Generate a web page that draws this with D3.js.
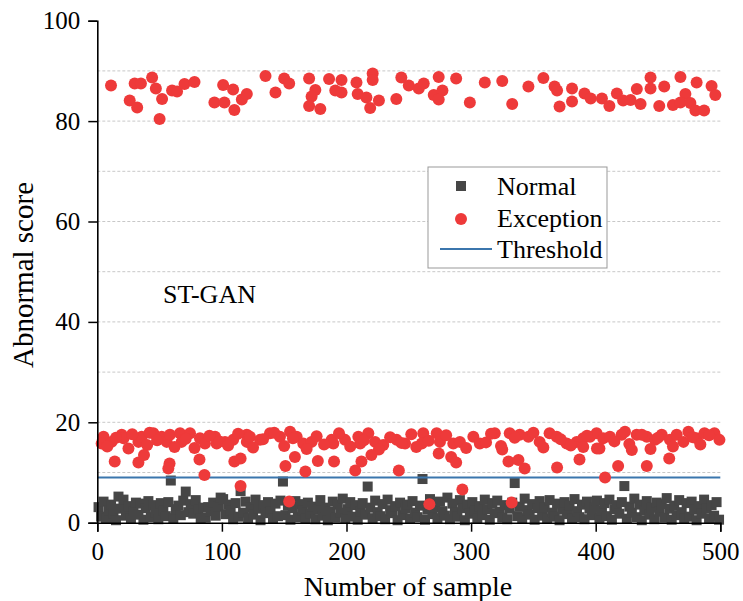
<!DOCTYPE html>
<html>
<head>
<meta charset="utf-8">
<script src="https://cdn.jsdelivr.net/npm/d3@7"></script>
<style>
  body { margin: 0; background: #fff; }
  svg text { font-family: "Liberation Serif", "Times New Roman", Times, serif; }
</style>
</head>
<body>
<div id="chart"></div>
<script>
// x ticks / y ticks
var xMajor = [0, 100, 200, 300, 400, 500];
var xMinor = [50, 150, 250, 350, 450];
var yMajor = [0, 20, 40, 60, 80, 100];
var yMinor = [10, 30, 50, 70, 90];
var gridVals = [10, 20, 30, 40, 50, 60, 70, 80, 90];

var thresholdValue = 9;

// normal samples, one value for every second sample (1, 3, 5 ... 499)
var normalScores = [
  3.1,1.2,4.2,0.8,2.5,3.6,1.9,0.5,5.2,2.8,4.6,1.4,3.3,0.9,2.2,4.0,1.6,3.8,0.6,2.9,4.3,1.1,3.5,2.0,0.7,
  3.9,2.4,1.3,4.1,8.4,0.9,2.7,3.4,1.5,4.4,6.2,2.1,3.7,1.8,4.5,2.6,0.8,3.0,1.0,3.1,2.3,4.0,1.4,3.2,5.0,
  4.7,1.7,3.6,2.4,0.7,3.9,1.2,6.3,2.0,4.2,0.9,3.1,1.6,4.6,2.8,0.5,3.5,1.9,4.1,2.2,0.8,3.8,1.3,4.4,8.2,
  1.5,3.4,0.6,2.9,4.3,1.1,3.7,2.5,0.9,4.0,1.8,3.2,0.7,2.6,4.5,1.4,3.0,0.5,2.2,4.2,1.0,3.6,2.0,4.8,0.8,
  2.7,4.1,1.2,3.5,0.6,2.3,3.9,1.6,7.2,3.0,0.9,4.4,2.1,1.3,3.7,0.7,4.6,2.5,1.9,3.3,0.5,4.0,1.5,2.8,3.6,
  0.8,4.3,2.0,1.1,3.4,8.7,0.6,2.6,4.7,1.7,3.1,0.9,4.2,2.3,1.4,5.0,0.7,3.8,2.1,1.2,4.5,2.9,0.5,3.6,1.8,
  4.1,2.4,0.8,3.3,1.5,4.6,2.7,0.6,3.9,1.9,4.4,2.2,1.0,3.5,0.7,2.8,4.0,7.9,1.3,3.2,0.9,4.8,2.5,1.6,3.7,
  0.6,2.9,4.3,1.4,3.1,0.8,4.5,2.0,1.2,3.8,0.5,2.6,4.1,1.7,3.4,0.9,4.7,2.3,1.1,3.6,0.7,4.2,2.8,1.5,3.0,
  4.4,0.9,2.4,3.9,1.3,4.6,0.6,2.7,3.5,1.8,4.1,7.3,0.8,3.2,2.0,4.8,1.1,3.6,0.5,2.5,4.3,1.6,3.0,0.7,4.0,
  2.2,3.7,1.0,4.9,2.8,0.6,3.4,1.5,4.5,2.1,0.8,3.9,1.2,4.2,2.6,0.5,3.3,1.8,4.6,2.9,0.9,3.5,1.4,4.1,0.6
];

// exception samples, upper band
var excHighX = [11,26,32,30,35,44,47,52,50,60,64,70,78,94,101,109,102,110,116,120,
  135,143,150,154,170,175,172,170,179,186,191,196,196,208,209,221,221,216,219,226,
  240,244,250,258,262,270,274,277,274,288,299,311,325,333,346,358,367,369,371,381,
  381,391,396,405,411,417,422,428,433,436,444,444,455,451,462,468,472,468,476,480,
  481,487,493,496];
var excHighY = [87.1,84.1,82.7,87.5,87.5,88.7,86.5,84.4,80.4,86.1,85.9,87.4,87.8,83.7,87.2,86.3,83.7,82.2,84.3,85.4,
  89.0,85.7,88.5,87.5,88.5,86.2,84.9,83.0,82.4,88.4,86.1,88.2,85.7,87.7,85.4,89.5,88.2,84.7,82.6,84.1,
  84.4,88.7,87.1,86.5,87.5,85.2,88.8,86.1,84.3,88.5,83.7,87.7,88.0,83.4,86.9,88.6,86.9,86.1,82.9,86.5,
  83.9,85.5,84.5,84.5,83.0,85.5,84.1,84.2,86.4,83.4,88.7,86.5,86.9,83.0,83.2,88.8,85.4,83.7,83.6,82.1,
  87.7,82.1,87.0,85.2];

// exception samples, lower band (incl. the few below the threshold)
var excLowX = [5,3.5,11.5,19.6,21,33,35.6,45,51.7,55.7,58.3,66.4,67.7,74.4,82.4,86.4,94.5,95.8,102.5,109,
  120,120,122.5,130.6,138.6,146.6,154.7,160,165.3,172,188,189.4,198.8,209.5,211,217.5,222.9,229.5,240.3,247,
  261.6,260.4,272.4,275,285.7,291,301.8,307,319,331,339,346,355,363,368.7,376.7,
  384.7,390,395.4,400.7,406,411.4,420.8,423.5,432.9,441,447.6,453,459.6,465,470.4,474.4,481,487.3,495.3,499.3,
  8,15,25,28,40,42,48,62,71,78,90,98,105,113,125,133,142,150,157,168,
  176,182,194,203,214,226,235,244,252,256,266,280,296,312,316,324,335,350,358,372,
  380,393,403,415,427,437,444,450,462,478,484,491,
  14,33,37.5,58,57,82,86,110,115,151,158.6,167,177,190,207,212,220,242,
  274,284,288,325,330,338,343,369,387,390,401,418,429,441,459,
  115,154,266.5,293,332.6,407.5];
var excLowY = [17.1,15.8,16.1,17.5,16.8,16.1,17.1,17.8,17.1,16.1,17.5,17.8,16.1,17.8,16.8,15.8,17.1,15.8,16.1,16.5,
  17.5,16.1,17.1,16.5,17.8,17.1,18.1,17.1,15.8,16.1,16.5,15.8,16.5,17.1,15.8,17.8,16.1,15.5,16.5,15.8,
  17.8,15.8,17.8,16.1,15.8,16.1,17.1,15.8,17.8,17.8,17.5,17.1,16.1,17.8,17.1,15.8,
  16.1,16.8,17.1,17.8,16.8,17.1,17.5,18.1,17.5,17.1,16.5,17.5,16.5,17.5,16.1,18.1,16.8,17.8,17.8,16.5,
  15.2,16.9,14.8,17.6,15.5,17.9,16.4,15.1,16.7,14.9,17.3,16.2,15.4,17.7,15.0,16.6,17.9,15.3,16.8,14.7,
  17.2,15.6,17.8,15.2,16.4,14.6,17.0,15.9,17.6,15.1,16.3,17.4,14.9,16.0,17.7,15.3,16.9,17.9,15.0,16.6,
  15.4,17.3,14.8,16.2,15.7,17.5,14.7,16.9,15.2,17.0,15.6,17.4,
  12.2,12.0,13.5,11.8,10.8,12.6,9.5,12.2,12.8,11.3,13.1,10.2,12.3,12.2,10.4,12.2,13.5,10.4,
  13.8,13.1,12.0,14.6,12.2,12.5,10.8,11.0,12.6,15.1,14.8,11.3,14.5,11.3,12.8,
  7.3,4.2,3.7,6.6,4.0,9.0];

var W = 743, H = 601;
var serif = "'Liberation Serif', 'Times New Roman', Times, serif";
var svg = d3.select("#chart").append("svg")
    .attr("width", W)
    .attr("height", H);

var x = d3.scaleLinear().domain([0, 500]).range([97.3, 720.3]);
var y = d3.scaleLinear().domain([0, 100]).range([522.7, 20.7]);

// dashed grid
svg.append("g").selectAll("line")
    .data(gridVals)
    .enter()
    .append("line")
    .attr("x1", x(0))
    .attr("x2", x(500) + 2)
    .attr("y1", function(d){ return y(d); })
    .attr("y2", function(d){ return y(d); })
    .attr("stroke", "#c8c8c8")
    .attr("stroke-width", 1)
    .attr("stroke-dasharray", "3,2");

// normal squares
var sq = 10;
svg.append("g").selectAll("rect")
    .data(normalScores)
    .enter()
    .append("rect")
    .attr("x", function(d, i){ return x(i * 2 + 1) - sq / 2; })
    .attr("y", function(d){ return y(d) - sq / 2; })
    .attr("width", sq)
    .attr("height", sq)
    .attr("fill", "#464646");

// threshold
svg.append("line")
    .attr("x1", x(0))
    .attr("x2", x(500))
    .attr("y1", y(thresholdValue))
    .attr("y2", y(thresholdValue))
    .attr("stroke", "#3b76ad")
    .attr("stroke-width", 2);

// exceptions
var red = "#ee3a3a";
var excPts = excHighX.map(function(d, i){ return [d, excHighY[i]]; })
    .concat(excLowX.map(function(d, i){ return [d, excLowY[i]]; }));

svg.append("g").selectAll("circle")
    .data(excPts)
    .enter()
    .append("circle")
    .attr("cx", function(d){ return x(d[0]); })
    .attr("cy", function(d){ return y(d[1]); })
    .attr("r", 6)
    .attr("fill", red);

// axes
var xAxisG = svg.append("g").attr("transform", "translate(0," + y(0) + ")");
xAxisG.call(d3.axisBottom(x).tickValues(xMinor).tickSize(5).tickFormat(""));
xAxisG.call(d3.axisBottom(x).tickValues(xMajor).tickSize(9).tickPadding(11));

var yAxisG = svg.append("g").attr("transform", "translate(" + x(0) + ",0)");
yAxisG.call(d3.axisLeft(y).tickValues(yMinor).tickSize(5).tickFormat(""));
yAxisG.call(d3.axisLeft(y).tickValues(yMajor).tickSize(9).tickPadding(8));

svg.selectAll(".domain").attr("stroke", "#000").attr("stroke-width", 1.6);
svg.selectAll(".tick line").attr("stroke", "#000").attr("stroke-width", 1.5);
xAxisG.attr("font-family", serif);
yAxisG.attr("font-family", serif);
svg.selectAll(".tick text")
    .attr("font-family", serif)
    .attr("font-size", "25px")
    .attr("fill", "#000");

// axis titles
svg.append("text")
    .attr("x", 408)
    .attr("y", 596)
    .attr("text-anchor", "middle")
    .attr("font-family", serif)
    .attr("font-size", "28px")
    .text("Number of sample");

svg.append("text")
    .attr("transform", "translate(33,275) rotate(-90)")
    .attr("text-anchor", "middle")
    .attr("font-family", serif)
    .attr("font-size", "29px")
    .text("Abnormal score");

svg.append("text")
    .attr("x", 163)
    .attr("y", 303)
    .attr("font-family", serif)
    .attr("font-size", "26px")
    .text("ST-GAN");

// legend
var lg = svg.append("g");
lg.append("rect")
    .attr("x", 428).attr("y", 167)
    .attr("width", 179).attr("height", 101)
    .attr("fill", "#fff")
    .attr("stroke", "#999")
    .attr("stroke-width", 1);
lg.append("rect")
    .attr("x", 456).attr("y", 181).attr("width", 10).attr("height", 10)
    .attr("fill", "#464646");
lg.append("circle")
    .attr("cx", 461).attr("cy", 219).attr("r", 6)
    .attr("fill", red);
lg.append("line")
    .attr("x1", 440).attr("x2", 492).attr("y1", 249).attr("y2", 249)
    .attr("stroke", "#3b76ad").attr("stroke-width", 2);
var legendNames = ["Normal", "Exception", "Threshold"];
lg.selectAll("text.lt")
    .data(legendNames)
    .enter()
    .append("text")
    .attr("class", "lt")
    .attr("x", 497)
    .attr("y", function(d, i){ return 195 + i * 31.5; })
    .attr("font-family", serif)
    .attr("font-size", "26px")
    .text(function(d){ return d; });
</script>
</body>
</html>
